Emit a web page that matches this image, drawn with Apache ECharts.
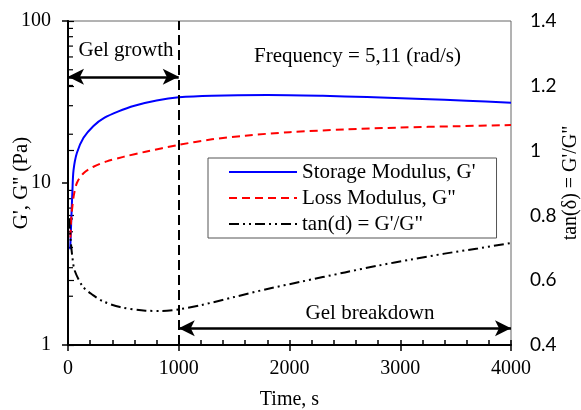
<!DOCTYPE html>
<html>
<head>
<meta charset="utf-8">
<script src="https://cdn.jsdelivr.net/npm/echarts@6/dist/echarts.min.js"></script>
<style>
  html, body { margin: 0; padding: 0; background: #fff; }
  #chart { width: 581px; height: 410px; }
</style>
</head>
<body>
<div id="chart"></div>
<script>
// Storage modulus G' (Pa) against time (s)
const timeStorage = [20, 30, 40, 50, 80, 140, 230, 330, 450, 600, 800, 1000, 1300, 1800, 2300, 2700, 3200, 3600, 4000];
const storage     = [3.9, 6.0, 9.0, 12.0, 15.3, 19.0, 22.5, 25.3, 27.6, 30.0, 32.3, 33.8, 34.6, 34.9, 34.5, 33.9, 33.0, 32.2, 31.3];

// Loss modulus G'' (Pa) against time (s)
const timeLoss = [22, 30, 40, 50, 80, 140, 230, 350, 500, 700, 1000, 1300, 1600, 2000, 2500, 3000, 3500, 4000];
const loss     = [4.6, 6.2, 7.2, 8.2, 10.0, 11.5, 12.6, 13.6, 14.5, 15.6, 17.2, 18.6, 19.6, 20.6, 21.4, 22.0, 22.4, 22.8];

// Loss tangent against time (s)
const timeTan  = [10, 25, 40, 60, 135, 226, 316, 470, 700, 850, 1000, 1200, 1500, 1800, 2100, 2500, 2800, 3100, 3400, 3700, 4000];
const tanDelta = [0.79, 0.72, 0.67, 0.63, 0.58, 0.554, 0.535, 0.517, 0.506, 0.505, 0.510, 0.523, 0.548, 0.573, 0.595, 0.624, 0.645, 0.664, 0.682, 0.698, 0.715];

// Axis ticks
const timeTicks = [0, 1000, 2000, 3000, 4000];
const modulusMinorTicks = [2, 3, 4, 5, 6, 7, 8, 9, 20, 30, 40, 50, 60, 70, 80, 90];
const tanTicks = [0.4, 0.6, 0.8, 1, 1.2, 1.4];

// Phase boundary and annotations
const gelPoint = 1000;
const growthArrowLevel = 45.2;      // on the modulus axis
const breakdownArrowLevel = 0.452;  // on the tan axis

const SERIF = '"Liberation Serif", "Times New Roman", serif';
const SANS = 'Lato, "Open Sans", sans-serif';

const pairs = (xs, ys) => xs.map((x, i) => [x, ys[i]]);

const chart = echarts.init(document.getElementById('chart'), null, { renderer: 'canvas' });

chart.setOption({
  animation: false,
  backgroundColor: '#fff',
  grid: {
    left: 68, right: 70, top: 21, bottom: 65,
    containLabel: false, outerBoundsMode: 'none',
    show: true, borderColor: '#666', borderWidth: 1, backgroundColor: 'transparent'
  },
  legend: {
    data: ["Storage Modulus, G'", 'Loss Modulus, G"', "tan(d) = G'/G\""],
    orient: 'vertical',
    left: 208, top: 158,
    itemWidth: 68, itemHeight: 14, itemGap: 4,
    padding: [3, 21, 3, 20],
    borderColor: '#555', borderWidth: 1,
    backgroundColor: '#fff',
    itemStyle: { opacity: 0 },
    textStyle: { fontFamily: SERIF, fontSize: 21, color: '#000', lineHeight: 22 }
  },
  xAxis: [
    {
      type: 'value', min: timeTicks[0], max: timeTicks[timeTicks.length - 1], interval: 1000,
      name: 'Time, s', nameLocation: 'middle', nameGap: 45, nameMoveOverlap: false,
      nameTextStyle: { fontFamily: SERIF, fontSize: 20, color: '#000' },
      axisLine: { lineStyle: { color: '#000', width: 2 } },
      axisTick: { inside: true, length: 5, lineStyle: { color: '#000', width: 1.5 } },
      minorTick: { show: true, splitNumber: 5, length: 5, lineStyle: { color: '#000', width: 1.5 } },
      axisLabel: { fontFamily: SERIF, fontSize: 20, color: '#000', margin: 14, formatter: v => String(v) },
      splitLine: { show: false }
    },
    {
      // outer halves of the major time ticks
      type: 'value', min: timeTicks[0], max: timeTicks[timeTicks.length - 1], interval: 1000,
      position: 'bottom', offset: 0,
      axisLine: { show: false },
      axisTick: { inside: false, length: 6, lineStyle: { color: '#000', width: 1.5 } },
      axisLabel: { show: false },
      splitLine: { show: false }
    }
  ],
  yAxis: [
    {
      type: 'log', logBase: 10, min: 1, max: 100,
      name: "G', G'' (Pa)", nameLocation: 'middle', nameGap: 36, nameRotate: 90, nameMoveOverlap: false,
      nameTextStyle: { fontFamily: SERIF, fontSize: 21, color: '#000' },
      axisLine: { show: true, lineStyle: { color: '#000', width: 2 } },
      axisTick: { show: true, inside: false, length: 6, lineStyle: { color: '#000', width: 1.5 } },
      axisLabel: { fontFamily: SERIF, fontSize: 20, color: '#000', margin: 17 },
      splitLine: { show: false }
    },
    {
      type: 'value', min: tanTicks[0], max: tanTicks[tanTicks.length - 1], interval: 0.2,
      position: 'right',
      name: 'tan(δ) = G\'/G"', nameLocation: 'middle', nameGap: 50, nameRotate: 90, nameMoveOverlap: false,
      nameTextStyle: { fontFamily: SERIF, fontSize: 20, color: '#000' },
      axisLine: { show: true, lineStyle: { color: '#000', width: 1.5 } },
      axisTick: { show: true, inside: false, length: 6, lineStyle: { color: '#000', width: 1.2 } },
      axisLabel: { fontFamily: SANS, fontSize: 19, color: '#000', margin: 19 },
      splitLine: { show: false }
    }
  ],
  series: [
    {
      name: "Storage Modulus, G'",
      type: 'line', xAxisIndex: 0, yAxisIndex: 0,
      data: pairs(timeStorage, storage),
      showSymbol: false, symbol: 'none', smooth: 0.3,
      lineStyle: { color: '#0000ff', width: 2 },
      itemStyle: { color: '#0000ff' },
      markLine: {
        silent: true, symbol: ['none', 'none'],
        lineStyle: { color: '#000', width: 2, type: [10, 5] },
        label: { show: false },
        data: [{ xAxis: gelPoint }]
      },
      markPoint: {
        silent: true, symbol: 'circle', symbolSize: 0,
        label: { show: true, position: 'inside', fontFamily: SERIF, fontSize: 21, color: '#000' },
        data: [
          { coord: [524, 66], value: 'Gel growth', label: { formatter: 'Gel growth' } },
          { coord: [2614, 60], value: 'f', label: { formatter: 'Frequency = 5,11 (rad/s)' } }
        ]
      }
    },
    {
      name: 'Loss Modulus, G"',
      type: 'line', xAxisIndex: 0, yAxisIndex: 0,
      data: pairs(timeLoss, loss),
      showSymbol: false, symbol: 'none', smooth: 0.3,
      lineStyle: { color: '#ff0000', width: 2, type: [8, 5] },
      itemStyle: { color: '#ff0000' },
      markLine: {
        silent: true,
        symbol: ['arrow', 'arrow'], symbolSize: [12, 16],
        lineStyle: { color: '#000', width: 2.5, type: 'solid' },
        itemStyle: { color: '#000' },
        label: { show: false },
        data: [[{ coord: [0, growthArrowLevel] }, { coord: [gelPoint, growthArrowLevel] }]]
      }
    },
    {
      name: "tan(d) = G'/G\"",
      type: 'line', xAxisIndex: 0, yAxisIndex: 1,
      data: pairs(timeTan, tanDelta),
      showSymbol: false, symbol: 'none', smooth: 0.3,
      lineStyle: { color: '#000', width: 2, type: [10, 4, 2, 4, 2, 4] },
      itemStyle: { color: '#000' },
      markLine: {
        silent: true,
        symbol: ['arrow', 'arrow'], symbolSize: [12, 16],
        lineStyle: { color: '#000', width: 2.5, type: 'solid' },
        itemStyle: { color: '#000' },
        label: { show: false },
        data: [[{ coord: [gelPoint, breakdownArrowLevel] }, { coord: [4000, breakdownArrowLevel] }]]
      },
      markPoint: {
        silent: true, symbol: 'circle', symbolSize: 0,
        label: { show: true, position: 'inside', fontFamily: SERIF, fontSize: 21, color: '#000' },
        data: [{ coord: [2727, 0.496], value: 'b', label: { formatter: 'Gel breakdown' } }]
      }
    },
    {
      // inward minor ticks of the logarithmic modulus axis (2..9 per decade)
      name: 'modulusMinorTicks',
      type: 'custom', xAxisIndex: 0, yAxisIndex: 0,
      silent: true, clip: false,
      data: modulusMinorTicks.map(v => [0, v]),
      renderItem: function (params, api) {
        const p = api.coord([0, api.value(1)]);
        return {
          type: 'line',
          shape: { x1: p[0], y1: p[1], x2: p[0] + 5, y2: p[1] },
          style: { stroke: '#000', lineWidth: 1.2 }
        };
      }
    }
  ]
});
</script>
</body>
</html>
